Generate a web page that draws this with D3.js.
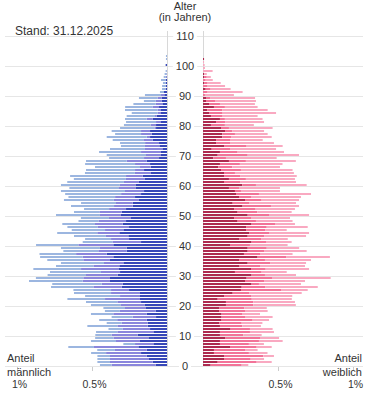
<!DOCTYPE html>
<html><head><meta charset="utf-8">
<script src="https://cdn.jsdelivr.net/npm/d3@7"></script>
<style>
html,body{margin:0;padding:0;background:#fff;}
svg{display:block;font-family:"Liberation Sans",Arial,sans-serif;}
</style></head>
<body><svg id="c" width="375" height="416"></svg>
<script>
// ages 0..103 (index = age)
const maleDark = [0.076,0.096,0.120,0.136,0.173,0.136,0.191,0.091,0.180,0.124,
0.196,0.091,0.113,0.129,0.129,0.136,0.073,0.136,0.076,0.140,
0.147,0.173,0.180,0.180,0.180,0.253,0.302,0.296,0.380,0.380,
0.329,0.313,0.324,0.318,0.291,0.380,0.358,0.402,0.269,0.269,
0.358,0.173,0.253,0.258,0.318,0.291,0.253,0.296,0.273,0.240,
0.307,0.302,0.273,0.229,0.229,0.187,0.213,0.173,0.153,0.207,
0.207,0.187,0.147,0.162,0.107,0.153,0.109,0.113,0.136,0.053,
0.040,0.040,0.031,0.051,0.053,0.096,0.113,0.102,0.113,0.073,
0.073,0.040,0.096,0.069,0.040,0.040,0.053,0.031,0.036,0.036,
0.018,0.020,0.009,0.009,0.009,0.009,0.004,0.002,0.002,0,
0.009,0,0,0];
const maleMid = [0.293,0.284,0.260,0.244,0.233,0.211,0.296,0.122,0.160,0.233,
0.173,0.240,0.184,0.202,0.173,0.196,0.156,0.222,0.238,0.140,
0.160,0.158,0.233,0.133,0.193,0.120,0.189,0.140,0.182,0.178,
0.211,0.127,0.249,0.173,0.129,0.178,0.204,0.204,0.189,0.178,
0.233,0.191,0.120,0.149,0.147,0.122,0.211,0.184,0.184,0.147,
0.140,0.149,0.113,0.124,0.111,0.167,0.133,0.133,0.127,0.113,
0.107,0.100,0.127,0.111,0.107,0.060,0.071,0.100,0.133,0.100,
0.100,0.133,0.116,0.096,0.093,0.062,0.022,0.071,0.060,0.011,
0.036,0.033,0.040,0.011,0.022,0.022,0.044,0.044,0.040,0.027,
0.022,0,0,0,0,0,0.004,0.002,0,0,
0,0,0,0];
const maleLight = [0.078,0.084,0.084,0.084,0.100,0.118,0.171,0.078,0.167,0.122,
0.109,0.142,0.093,0.200,0.100,0.120,0.140,0.149,0.100,0.144,
0.200,0.209,0.251,0.233,0.247,0.251,0.282,0.329,0.358,0.316,
0.256,0.340,0.318,0.249,0.287,0.240,0.284,0.244,0.233,0.260,
0.282,0.198,0.173,0.213,0.267,0.222,0.200,0.218,0.133,0.187,
0.293,0.169,0.167,0.287,0.233,0.333,0.311,0.373,0.427,0.331,
0.393,0.378,0.347,0.373,0.333,0.327,0.300,0.333,0.271,0.233,
0.262,0.280,0.233,0.160,0.167,0.204,0.267,0.173,0.196,0.229,
0.178,0.200,0.144,0.189,0.173,0.218,0.182,0.149,0.078,0.124,
0.107,0.027,0.024,0.024,0.018,0.031,0.014,0.012,0.007,0,
0,0,0.007,0.007];
const femaleDark = [0.051,0.098,0.140,0.140,0.073,0.073,0.180,0.113,0.113,0.147,
0.113,0.113,0.184,0.113,0.107,0.124,0.124,0.124,0.107,0.107,
0.153,0.153,0.098,0.140,0.198,0.253,0.258,0.324,0.280,0.291,
0.324,0.213,0.320,0.240,0.298,0.240,0.364,0.273,0.298,0.298,
0.180,0.324,0.240,0.298,0.307,0.287,0.287,0.324,0.231,0.207,
0.298,0.231,0.207,0.264,0.198,0.280,0.240,0.220,0.213,0.173,
0.262,0.140,0.173,0.140,0.140,0.120,0.102,0.113,0.173,0.069,
0.098,0.113,0.058,0.140,0.087,0.087,0.129,0.129,0.147,0.120,
0.053,0.087,0.113,0.053,0.040,0.029,0.073,0.040,0.020,0.020,
0,0,0.018,0,0.007,0,0.007,0.007,0,0,
0,0,0.007,0];
const femaleMid = [0.207,0.260,0.178,0.262,0.233,0.207,0.178,0.193,0.260,0.233,
0.156,0.200,0.129,0.149,0.151,0.207,0.160,0.140,0.173,0.169,
0.182,0.182,0.227,0.184,0.109,0.267,0.156,0.049,0.127,0.173,
0.089,0.178,0.098,0.144,0.149,0.173,0.193,0.111,0.109,0.127,
0.133,0.100,0.147,0.109,0.133,0.127,0.138,0.156,0.122,0.113,
0.142,0.131,0.144,0.189,0.109,0.111,0.080,0.153,0.040,0.067,
0.091,0.107,0.113,0.107,0.073,0.133,0.093,0.133,0.113,0.084,
0.200,0.118,0.122,0.151,0.093,0.093,0.058,0.084,0.049,0.053,
0.093,0.060,0.033,0.078,0.091,0.100,0.073,0.073,0.060,0.027,
0.013,0.031,0.033,0.031,0.024,0.018,0.018,0,0,0,
0,0,0,0];
const femaleLight = [0.044,0.100,0.089,0.071,0.124,0.084,0.100,0.100,0.158,0.127,
0.122,0.160,0.151,0.124,0.138,0.109,0.180,0.116,0.151,0.149,
0.284,0.278,0.267,0.271,0.351,0.178,0.351,0.280,0.273,0.387,
0.207,0.167,0.289,0.296,0.240,0.307,0.289,0.213,0.284,0.216,
0.251,0.167,0.178,0.280,0.267,0.144,0.273,0.133,0.244,0.260,
0.267,0.229,0.262,0.187,0.313,0.249,0.333,0.347,0.260,0.273,
0.338,0.373,0.327,0.378,0.393,0.344,0.318,0.284,0.333,0.338,
0.342,0.309,0.307,0.240,0.293,0.218,0.271,0.218,0.211,0.291,
0.193,0.260,0.251,0.233,0.356,0.302,0.218,0.233,0.273,0.300,
0.193,0.233,0.133,0.116,0.087,0.047,0.027,0.018,0.064,0.013,
0.011,0.007,0,0];
const ageTicks = d3.range(0, 111, 10);
const shareTicks = [0.5, 1];
const shareLabels = ["0.5%", "1%"];

const maleColors = ["#3747b8", "#8a86dc", "#9cb6e0"];
const femaleColors = ["#ad2a4f", "#f27398", "#f9a9c1"];

const svg = d3.select("#c");
const y = d3.scaleLinear().domain([0, 110]).range([366, 36]);
const xL = d3.scaleLinear().domain([0, 1]).range([167, 17]);
const xR = d3.scaleLinear().domain([0, 1]).range([203, 353]);

const keys = ["dark", "mid", "light"];
const maleData = maleDark.map((d, i) => ({age: i, dark: d, mid: maleMid[i], light: maleLight[i]}));
const femaleData = femaleDark.map((d, i) => ({age: i, dark: d, mid: femaleMid[i], light: femaleLight[i]}));
const stack = d3.stack().keys(keys);
const mS = stack(maleData), fS = stack(femaleData);

// gridlines
const grid = svg.append("g");
grid.selectAll("line").data(ageTicks).join("line")
  .attr("x1", 5).attr("x2", 363)
  .attr("y1", d => Math.round(y(d)) + 0.5).attr("y2", d => Math.round(y(d)) + 0.5)
  .attr("stroke", "#e6e6e6").attr("stroke-width", 1);

// vertical zero lines
[167, 203].forEach(x => {
  svg.append("line").attr("x1", x + 0.5).attr("x2", x + 0.5).attr("y1", 31).attr("y2", 366)
    .attr("stroke", "#d8d8d8");
});

// bars
const barH = 2;
const gM = svg.append("g");
mS.forEach((layer, k) => {
  gM.append("g").attr("fill", maleColors[k]).selectAll("rect").data(layer).join("rect")
    .attr("x", d => xL(d[1]))
    .attr("width", d => Math.max(0, xL(d[0]) - xL(d[1])))
    .attr("y", d => y(d.data.age + 1) + 1)
    .attr("height", barH);
});
const gF = svg.append("g");
fS.forEach((layer, k) => {
  gF.append("g").attr("fill", femaleColors[k]).selectAll("rect").data(layer).join("rect")
    .attr("x", d => xR(d[0]))
    .attr("width", d => Math.max(0, xR(d[1]) - xR(d[0])))
    .attr("y", d => y(d.data.age + 1) + 1)
    .attr("height", barH);
});

// age labels with white background
const lab = svg.append("g");
ageTicks.forEach(a => {
  const t = lab.append("text").attr("x", 185).attr("y", y(a) + 4)
    .attr("text-anchor", "middle").attr("font-size", 11).attr("fill", "#333").text(a);
  const bb = t.node().getBBox();
  lab.insert("rect", "text").attr("x", bb.x - 3).attr("y", y(a) - 1).attr("width", bb.width + 6).attr("height", 3).attr("fill", "#fff");
});

// bottom ticks
shareTicks.forEach((v, i) => {
  [xL(v), xR(v)].forEach(x => {
    svg.append("line").attr("x1", Math.round(x) + 0.5).attr("x2", Math.round(x) + 0.5)
      .attr("y1", 367).attr("y2", 371).attr("stroke", "#ccc");
  });
  svg.append("text").attr("x", xL(v) + 2.5).attr("y", 387.5).attr("text-anchor", "middle")
    .attr("font-size", 10.5).attr("fill", "#333").text(shareLabels[i]);
  svg.append("text").attr("x", xR(v) + 2.5).attr("y", 387.5).attr("text-anchor", "middle")
    .attr("font-size", 10.5).attr("fill", "#333").text(shareLabels[i]);
});

// texts
const T = (x, yy, s, anchor, size) => svg.append("text").attr("x", x).attr("y", yy)
  .attr("text-anchor", anchor).attr("font-size", size).attr("fill", "#333").text(s);
T(15, 35, "Stand: 31.12.2025", "start", 12);
T(185, 10, "Alter", "middle", 11);
T(185, 21, "(in Jahren)", "middle", 11);
T(7, 361.5, "Anteil", "start", 11);
T(7, 375.5, "männlich", "start", 11);
T(362, 361.5, "Anteil", "end", 11);
T(362, 375.5, "weiblich", "end", 11);
</script></body></html>
